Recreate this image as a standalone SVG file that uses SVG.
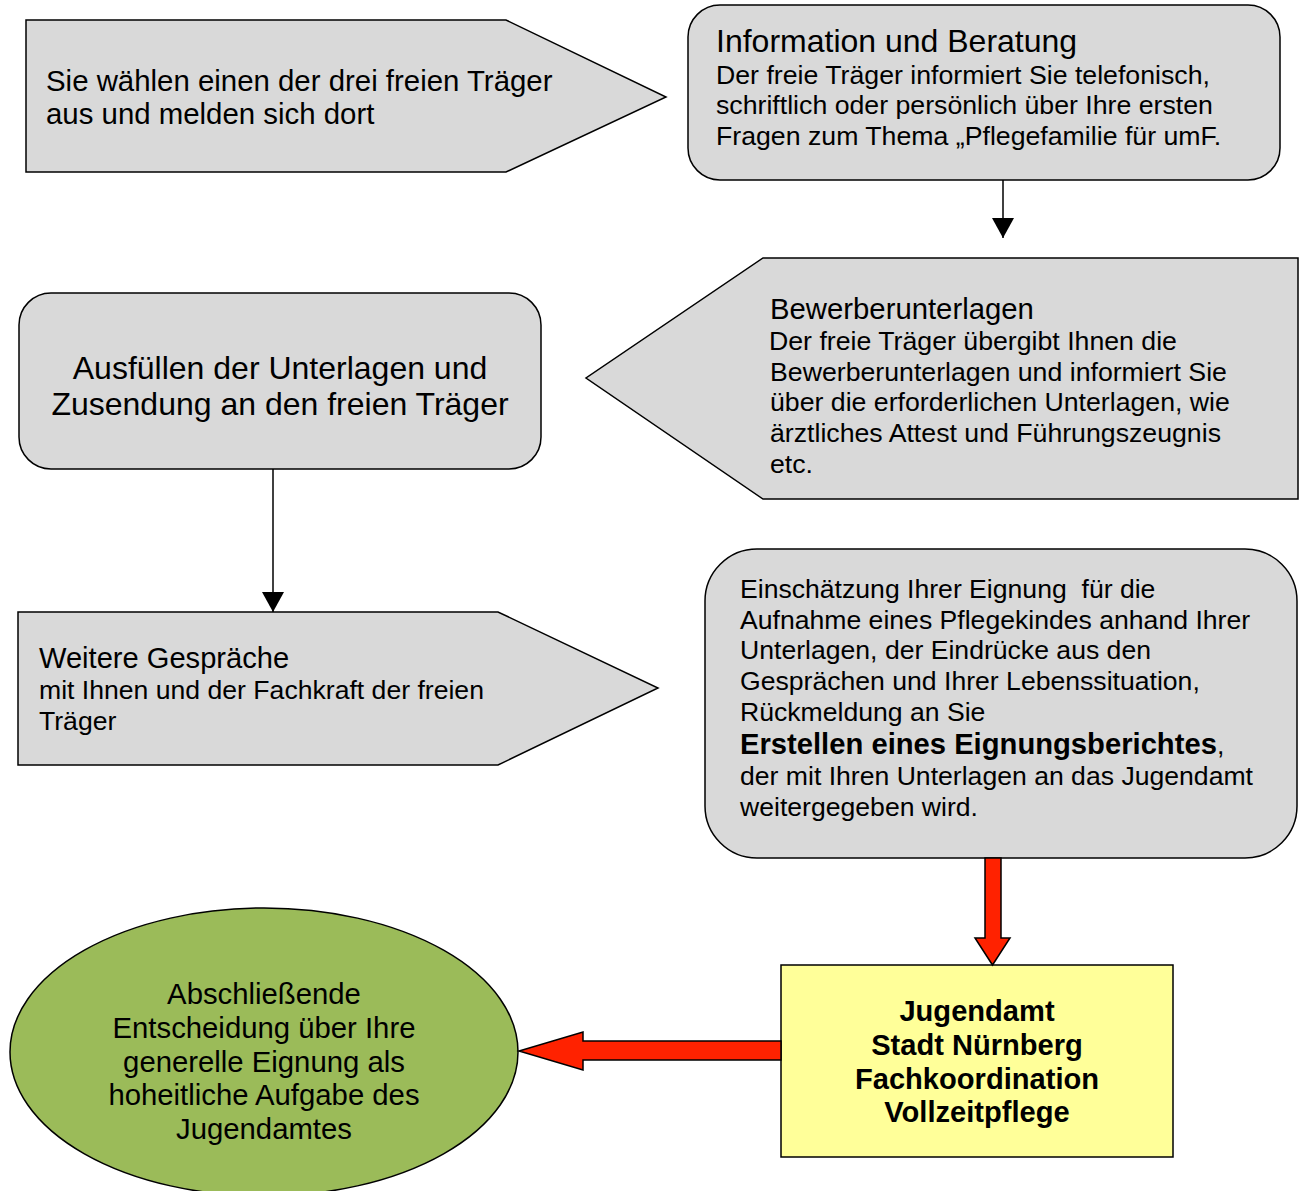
<svg xmlns="http://www.w3.org/2000/svg" width="1304" height="1191" viewBox="0 0 1304 1191">
<style>
  .box{fill:#d9d9d9;stroke:#000;stroke-width:1.5}
  .t{font-family:"Liberation Sans",Arial,sans-serif;fill:#000}
  .b{font-weight:bold}
  .red{fill:#ff2200;stroke:#000;stroke-width:1.5;stroke-linejoin:miter}
  .line{stroke:#000;stroke-width:1.5;fill:none}
</style>
<defs>
  <marker id="ah" markerWidth="20" markerHeight="22" refX="20" refY="11" orient="auto" markerUnits="userSpaceOnUse">
    <path d="M0,0 L20,11 L0,22 Z" fill="#000"/>
  </marker>
</defs>
<rect width="1304" height="1191" fill="#fff"/>

<g id="n1">
  <polygon class="box" points="26,20 506,20 666,97 506,172 26,172"/>
  <text class="t" font-size="29.4" x="46" y="91">Sie wählen einen der drei freien Träger</text>
  <text class="t" font-size="29.4" x="46" y="124">aus und melden sich dort</text>
</g>

<g id="n2">
  <rect class="box" x="688" y="5" width="592" height="175" rx="32"/>
  <text class="t" font-size="32" x="716" y="52">Information und Beratung</text>
  <text class="t" font-size="26.7" x="716" y="84">Der freie Träger informiert Sie telefonisch,</text>
  <text class="t" font-size="26.7" x="716" y="114">schriftlich oder persönlich über Ihre ersten</text>
  <text class="t" font-size="26.7" x="716" y="145">Fragen zum Thema „Pflegefamilie für umF.</text>
</g>

<g id="n3">
  <polygon class="box" points="763,258 1298,258 1298,499 763,499 586,378"/>
  <text class="t" font-size="29.3" x="770" y="319">Bewerberunterlagen</text>
  <text class="t" font-size="26.7" x="769" y="350">Der freie Träger übergibt Ihnen die</text>
  <text class="t" font-size="26.7" x="770" y="381">Bewerberunterlagen und informiert Sie</text>
  <text class="t" font-size="26.7" x="770" y="411">über die erforderlichen Unterlagen, wie</text>
  <text class="t" font-size="26.7" x="770" y="442">ärztliches Attest und Führungszeugnis</text>
  <text class="t" font-size="26.7" x="770" y="473">etc.</text>
</g>

<g id="n4">
  <rect class="box" x="19" y="293" width="522" height="176" rx="32"/>
  <text class="t" font-size="32" x="280" y="379" text-anchor="middle">Ausfüllen der Unterlagen und</text>
  <text class="t" font-size="32" x="280" y="415" text-anchor="middle">Zusendung an den freien Träger</text>
</g>

<g id="n5">
  <polygon class="box" points="18,612 498,612 658,688 498,765 18,765"/>
  <text class="t" font-size="29.1" x="39" y="668">Weitere Gespräche</text>
  <text class="t" font-size="26.6" x="39" y="699">mit Ihnen und der Fachkraft der freien</text>
  <text class="t" font-size="26.6" x="39" y="730">Träger</text>
</g>

<g id="n6">
  <rect class="box" x="705" y="549" width="592" height="309" rx="52"/>
  <text class="t" font-size="26.6" x="740" y="598" xml:space="preserve">Einschätzung Ihrer Eignung  für die</text>
  <text class="t" font-size="26.6" x="740" y="629">Aufnahme eines Pflegekindes anhand Ihrer</text>
  <text class="t" font-size="26.6" x="740" y="659">Unterlagen, der Eindrücke aus den</text>
  <text class="t" font-size="26.6" x="740" y="690">Gesprächen und Ihrer Lebenssituation,</text>
  <text class="t" font-size="26.6" x="740" y="721">Rückmeldung an Sie</text>
  <text class="t" font-size="26.6" x="740" y="754"><tspan class="b" font-size="29.2">Erstellen eines Eignungsberichtes</tspan>,</text>
  <text class="t" font-size="26.6" x="740" y="785">der mit Ihren Unterlagen an das Jugendamt</text>
  <text class="t" font-size="26.6" x="740" y="816">weitergegeben wird.</text>
</g>

<g id="n7">
  <rect x="781" y="965" width="392" height="192" fill="#ffff99" stroke="#000" stroke-width="1.5"/>
  <text class="t b" font-size="29.1" x="977" y="1021" text-anchor="middle">Jugendamt</text>
  <text class="t b" font-size="29.1" x="977" y="1055" text-anchor="middle">Stadt Nürnberg</text>
  <text class="t b" font-size="29.1" x="977" y="1089" text-anchor="middle">Fachkoordination</text>
  <text class="t b" font-size="29.1" x="977" y="1122" text-anchor="middle">Vollzeitpflege</text>
</g>

<g id="n8">
  <ellipse cx="264" cy="1052" rx="254" ry="144" fill="#9bbb59" stroke="#000" stroke-width="1.5"/>
  <text class="t" font-size="29.3" x="264" y="1004" text-anchor="middle">Abschließende</text>
  <text class="t" font-size="29.3" x="264" y="1038" text-anchor="middle">Entscheidung über Ihre</text>
  <text class="t" font-size="29.3" x="264" y="1072" text-anchor="middle">generelle Eignung als</text>
  <text class="t" font-size="29.3" x="264" y="1105" text-anchor="middle">hoheitliche Aufgabe des</text>
  <text class="t" font-size="29.3" x="264" y="1139" text-anchor="middle">Jugendamtes</text>
</g>

<g id="connectors">
  <line class="line" x1="1003" y1="180" x2="1003" y2="238" marker-end="url(#ah)"/>
  <line class="line" x1="273" y1="469" x2="273" y2="612" marker-end="url(#ah)"/>
  <polygon class="red" points="985,858 1001,858 1001,938 1010,938 992.5,965 975,938 985,938"/>
  <polygon class="red" points="781,1041 583,1041 583,1032 519,1051 583,1070 583,1060 781,1060"/>
</g>
</svg>
